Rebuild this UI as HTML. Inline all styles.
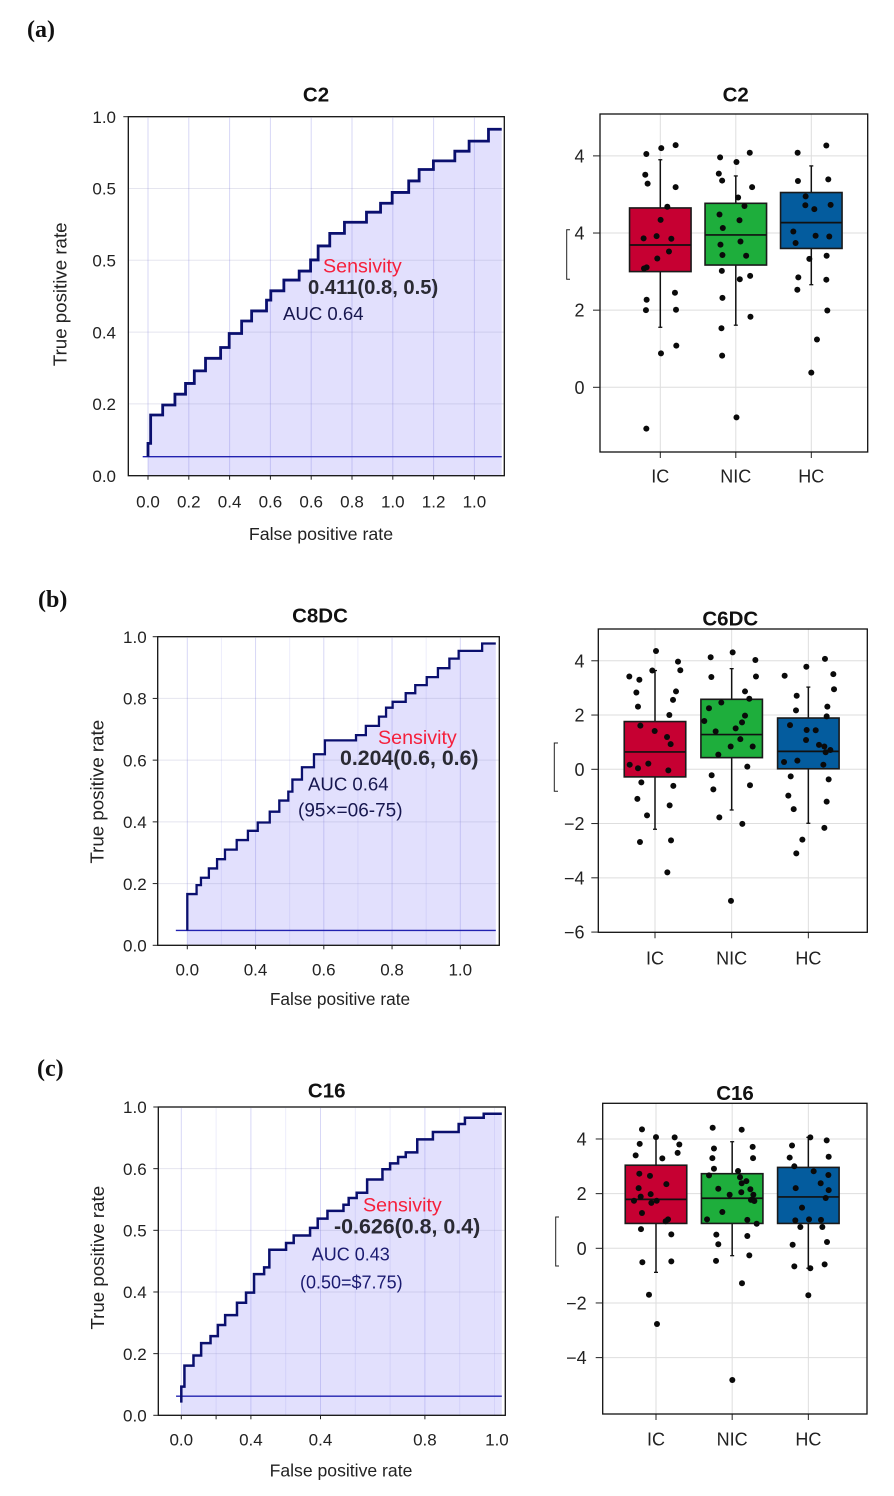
<!DOCTYPE html>
<html lang="en">
<head>
<meta charset="utf-8">
<title>ROC curves and box plots for C2, C8DC, C6DC and C16</title>
<style>
html,body{margin:0;padding:0;background:#fff;}
body{width:894px;height:1496px;overflow:hidden;}
svg{display:block;font-family:"Liberation Sans",sans-serif;}
.panel-label{font-family:"Liberation Serif",serif;font-weight:700;font-size:24px;fill:#111;}
.title{font-weight:700;font-size:20.5px;fill:#111;text-anchor:middle;}
.axis-title{font-size:17.8px;fill:#222;text-anchor:middle;}
.axis-title-y{font-size:18.7px;fill:#222;text-anchor:middle;}
.sens{font-size:19.7px;fill:#f5203c;}
.val{font-size:20.2px;font-weight:700;fill:#2a2a33;}
.auc{font-size:18.6px;fill:#17174f;}
.auc-c{font-size:18px;fill:#1a1a70;}
</style>
</head>
<body>
<svg xmlns="http://www.w3.org/2000/svg" width="894" height="1496" viewBox="0 0 894 1496">
  <rect x="0" y="0" width="894" height="1496" fill="#ffffff"/>

  <text class="panel-label" x="27" y="37">(a)</text>
  <text class="panel-label" x="38" y="607">(b)</text>
  <text class="panel-label" x="37" y="1076">(c)</text>

  <!-- Panel a ROC -->
  <g id="roc-a"></g>
  <text class="title" x="316" y="101.7">C2</text>
  <text class="axis-title" x="321" y="540">False positive rate</text>
  <text class="axis-title-y" transform="translate(66.7 294.3) rotate(-90)">True positive rate</text>
  <text class="sens" x="323" y="272.7">Sensivity</text>
  <text class="val" x="308" y="294">0.411(0.8, 0.5)</text>
  <text class="auc" x="283" y="320">AUC 0.64</text>

  <!-- Panel a box -->
  <g id="box-a"></g>
  <text class="title" x="735.7" y="101.7">C2</text>
  <path d="M570 229.7H566.7V279.3H570" fill="none" stroke="#222" stroke-width="1"/>

  <!-- Panel b ROC -->
  <g id="roc-b"></g>
  <text class="title" x="320" y="622.7">C8DC</text>
  <text class="axis-title" x="340" y="1005" style="font-size:17.3px">False positive rate</text>
  <text class="axis-title-y" transform="translate(103.3 791.7) rotate(-90)">True positive rate</text>
  <text class="sens" x="378" y="744">Sensivity</text>
  <text class="val" x="340" y="765" style="font-size:21.3px">0.204(0.6, 0.6)</text>
  <text class="auc" x="308" y="790.7">AUC 0.64</text>
  <text class="auc" x="298" y="816.7" style="font-size:19px">(95×=06-75)</text>

  <!-- Panel b box -->
  <g id="box-b"></g>
  <text class="title" x="730.3" y="625.3">C6DC</text>
  <path d="M558 743H554.3V791.3H558" fill="none" stroke="#222" stroke-width="1"/>

  <!-- Panel c ROC -->
  <g id="roc-c"></g>
  <text class="title" x="326.7" y="1097.7">C16</text>
  <text class="axis-title" x="341" y="1476.7" style="font-size:17.6px">False positive rate</text>
  <text class="axis-title-y" transform="translate(104 1257.7) rotate(-90)">True positive rate</text>
  <text class="sens" x="363" y="1211.7">Sensivity</text>
  <text class="val" x="334" y="1233.3" style="font-size:21.4px">-0.626(0.8, 0.4)</text>
  <text class="auc-c" x="311.7" y="1260.3">AUC 0.43</text>
  <text class="auc-c" x="300" y="1288.3">(0.50=$7.75)</text>

  <!-- Panel c box -->
  <g id="box-c"></g>
  <text class="title" x="735" y="1100">C16</text>
  <path d="M559 1217H555.7V1266H559" fill="none" stroke="#222" stroke-width="1"/>
</svg>

<script>
/* ---------- ROC data ---------- */
const rocAFpr = [0,.013,.072,.132,.184,.227,.282,.356,.398,.459,.508,.581,.602,.666,.741,.797,.834,.891,.963,1.071,1.14,1.197,1.278,1.329,1.399,1.504,1.574,1.669,1.734];
const rocATpr = [.09,.169,.197,.227,.257,.292,.327,.357,.396,.431,.459,.489,.515,.545,.57,.601,.64,.675,.706,.734,.759,.789,.821,.853,.877,.904,.932,.965,.965];
const rocAStart = .053;
const rocABaseline = .053;
const rocAXTicks = [0,.2,.4,.6,.8,1,1.2,1.4,1.6];
const rocAXTickLabels = ["0.0","0.2","0.4","0.6","0.6","0.8","1.0","1.2","1.0"];
const rocAYTicks = [0,.2,.4,.6,.8,1];
const rocAYTickLabels = ["0.0","0.2","0.4","0.5","0.5","1.0"];

const rocBFpr = [0,.034,.05,.079,.109,.138,.181,.222,.258,.302,.337,.37,.385,.42,.464,.504,.618,.654,.702,.728,.752,.8,.835,.877,.918,.96,.994,1.08,1.13];
const rocBTpr = [.166,.195,.219,.249,.279,.31,.341,.371,.398,.433,.469,.498,.537,.577,.619,.664,.681,.711,.741,.77,.789,.817,.843,.869,.898,.929,.954,.978,.978];
const rocBStart = .048;
const rocBBaseline = .048;
const rocBXTicks = [0,.25,.5,.75,1];
const rocBXTickLabels = ["0.0","0.4","0.6","0.8","1.0"];
const rocBYTicks = [0,.2,.4,.6,.8,1];
const rocBYTickLabels = ["0.0","0.2","0.4","0.6","0.8","1.0"];

const rocCFpr = [0,.009,.035,.057,.084,.105,.126,.16,.186,.209,.238,.253,.301,.323,.37,.392,.42,.466,.481,.504,.534,.578,.6,.623,.645,.678,.723,.797,.815,.869,.921];
const rocCTpr = [.093,.161,.194,.234,.257,.293,.325,.365,.398,.458,.48,.537,.559,.583,.608,.638,.663,.683,.705,.722,.765,.798,.817,.838,.853,.895,.919,.945,.965,.978,.978];
const rocCStart = .041;
const rocCBaseline = .062;
const rocCXTicks = [0,.1,.2,.4,.7];
const rocCXLabelAt = [0,.2,.4,.7,.907];
const rocCXTickLabels = ["0.0","0.4","0.4","0.8","1.0"];
const rocCYTicks = [0,.2,.4,.6,.8,1];
const rocCYTickLabels = ["0.0","0.2","0.4","0.5","0.6","1.0"];

/* ---------- Box plot data ---------- */
const groupNames = ["IC","NIC","HC"];

const boxAQ1 = [3.0,3.17,3.6];
const boxAMedian = [3.69,3.95,4.27];
const boxAQ3 = [4.65,4.77,5.05];
const boxALow = [1.556,1.61,2.66];
const boxAHigh = [5.9,5.48,5.74];
const boxAYTicks = [0,2,4,6];
const boxAYTickLabels = ["0","2","4","4"];
const boxAIcJitter = [-.185,.013,.203,-.199,-.168,.203,.093,.004,-.049,-.221,.146,.115,-.04,-.181,-.216,-.181,.194,-.19,.208,.009,.212,-.185];
const boxAIcValues = [6.05,6.2,6.28,5.51,5.28,5.19,4.68,4.34,3.92,3.86,3.85,3.52,3.34,3.11,3.08,2.27,2.45,2.0,2.01,.88,1.08,-1.07];
const boxANicJitter = [-.208,.009,.185,-.225,-.181,.216,.031,.115,-.216,.049,-.172,-.203,.062,-.177,.137,-.185,.19,.053,-.177,.194,-.19,-.181,.009];
const boxANicValues = [5.96,5.84,6.08,5.54,5.36,5.19,4.92,4.7,4.48,4.33,4.13,3.7,3.78,3.43,3.41,3.02,2.89,2.8,2.32,1.83,1.53,.82,-.78];
const boxAHcJitter = [-.181,.199,-.177,.225,-.075,-.079,.04,.256,-.238,-.208,.057,.238,-.026,.203,-.172,.199,-.185,.212,.075,0];
const boxAHcValues = [6.08,6.27,5.35,5.39,4.95,4.72,4.62,4.73,4.04,3.74,3.93,3.91,3.33,3.41,2.85,2.79,2.53,1.99,1.24,.38];

const boxBQ1 = [-.28,.43,.02];
const boxBMedian = [.64,1.28,.66];
const boxBQ3 = [1.76,2.58,1.89];
const boxBLow = [-2.21,-1.5,-1.99];
const boxBHigh = [3.64,3.71,3.03];
const boxBYTicks = [-6,-4,-2,0,2,4];
const boxBYTickLabels = ["\u22126","\u22124","\u22122","0","2","4"];
const boxBIcJitter = [.013,.3,-.335,-.204,-.035,.33,-.243,.274,.235,-.222,.187,-.191,-.004,.157,.204,-.33,-.222,-.087,.174,-.178,.239,-.23,.191,-.104,-.196,.209,.161];
const boxBIcValues = [4.36,3.97,3.42,3.3,3.64,3.65,2.83,2.87,2.56,2.31,2.0,1.61,1.41,1.19,.93,.17,.04,.21,-.04,-.48,-.61,-1.09,-1.33,-1.7,-2.68,-2.62,-3.8];
const boxBNicJitter = [-.274,.013,.309,-.265,.317,.174,.23,-.135,-.296,-.357,-.209,.174,.135,.052,.113,.274,-.013,-.174,.204,-.261,-.239,.239,-.161,.139,-.009];
const boxBNicValues = [4.13,4.31,4.03,3.4,3.42,2.87,2.6,2.46,2.25,1.78,1.4,1.98,1.73,1.51,1.11,.84,.84,.54,.1,-.22,-.74,-.59,-1.77,-2.01,-4.85];
const boxBHcJitter = [.217,-.026,-.309,.326,-.152,.335,.248,-.161,.239,-.239,-.022,.096,-.03,.139,.209,.287,.226,-.317,-.143,.196,-.23,.265,-.261,.239,-.191,.209,-.078,-.157];
const boxBHcValues = [4.07,3.78,3.45,3.51,2.71,2.95,2.31,2.17,1.95,1.63,1.45,1.44,1.08,.9,.84,.71,.63,.27,.32,.17,-.26,-.37,-.97,-1.19,-1.47,-2.16,-2.59,-3.1];

const boxCQ1 = [.91,.91,.91];
const boxCMedian = [1.79,1.83,1.88];
const boxCQ3 = [3.04,2.73,2.96];
const boxCLow = [-.88,-.27,-.73];
const boxCHigh = [4.06,3.9,4.06];
const boxCYTicks = [-4,-2,0,2,4];
const boxCYTickLabels = ["\u22124","\u22122","0","2","4"];
const boxCIcJitter = [-.184,.245,0,-.214,.306,-.267,.284,.083,-.219,-.079,.136,-.228,-.201,-.07,.009,-.289,-.061,-.184,.158,.127,-.197,.201,-.179,.201,-.092,.013];
const boxCIcValues = [4.35,4.06,4.07,3.82,3.8,3.4,3.49,3.29,2.73,2.65,2.35,2.2,1.89,1.98,1.74,1.74,1.66,1.29,1.06,.99,.7,.51,-.51,-.48,-1.7,-2.77];
const boxCNicJitter = [-.256,.125,-.239,.269,-.26,.274,-.239,.077,.103,-.304,.186,.125,-.182,.239,.12,-.033,.278,.247,.291,-.129,-.33,.199,.322,-.208,.199,-.182,.225,-.212,.129,.002];
const boxCNicValues = [4.41,4.34,3.65,3.71,3.3,3.3,2.91,2.83,2.6,2.67,2.46,2.38,2.18,2.16,2.05,1.96,1.96,1.77,1.73,1.33,1.06,1.04,.9,.5,.45,.15,-.26,-.46,-1.28,-4.82];
const boxCHcJitter = [.026,.241,-.214,-.245,.267,-.184,.07,.263,.162,-.166,.267,.228,-.083,-.171,.009,.166,-.105,.184,-.206,.245,-.184,.214,0,.026];
const boxCHcValues = [4.06,3.95,3.76,3.32,3.35,3.0,2.82,2.68,2.38,2.2,2.13,1.84,1.49,1.02,1.06,1.04,.78,.78,.13,.23,-.66,-.59,-1.72,-.73];

/* ---------- Drawing helpers ---------- */
const NS = "http://www.w3.org/2000/svg";
function make(tag, parent) {
  const el = document.createElementNS(NS, tag);
  parent.appendChild(el);
  
  return el;
}
function seg(parent, x1, y1, x2, y2, color, width, opacity) {
  const l = make('line', parent);
  l.setAttribute('x1', x1);
  l.setAttribute('y1', y1);
  l.setAttribute('x2', x2);
  l.setAttribute('y2', y2);
  l.setAttribute('stroke', color);
  l.setAttribute('stroke-width', width);
  if (opacity !== undefined) l.setAttribute('stroke-opacity', opacity);
  return l;
}
function label(parent, x, y, str, anchor, size) {
  const t = make('text', parent);
  t.setAttribute('x', x);
  t.setAttribute('y', y);
  t.setAttribute('text-anchor', anchor);
  t.setAttribute('font-size', size);
  t.setAttribute('fill', '#222');
  t.textContent = str;
  return t;
}

function drawRoc(id, o) {
  const g = document.getElementById(id);
  const sx = v => o.x0 + v * o.xPerUnit;
  const sy = v => o.y0 - v * o.yPerUnit;

  let line = `M${sx(0)} ${sy(o.start)}`;
  o.fpr.forEach((f, i) => {
    line += `L${sx(f)} ${i === 0 ? sy(o.start) : sy(o.tpr[i - 1])}L${sx(f)} ${sy(o.tpr[i])}`;
  });
  const last = o.fpr[o.fpr.length - 1];

  const fill = make('path', g);
  
  fill.setAttribute('d', line + `L${sx(last)} ${o.y0}L${sx(0)} ${o.y0}Z`);
  fill.setAttribute('fill', '#e2e0fd');

  o.gridX.forEach(v => {
    const l = seg(g, sx(v), o.top + 1, sx(v), o.y0, '#7c7ce0', 1, .3);
    
  });
  (o.minorGridX || []).forEach(v => {
    const l = seg(g, sx(v), o.top + 1, sx(v), o.y0, '#7c7ce0', 1, .14);
    
  });
  o.yTicks.forEach((v, i) => {
    if (i > 0 && i < o.yTicks.length - 1) {
      const l = seg(g, o.left, sy(v), o.right, sy(v), '#8a8ab8', 1, .22);
      
    }
  });

  const base = seg(g, sx(o.baseStart), sy(o.baseline), sx(last), sy(o.baseline), '#2222b0', 1.4);
  

  const curve = make('path', g);
  
  curve.setAttribute('d', line);
  curve.setAttribute('fill', 'none');
  curve.setAttribute('stroke', '#0a0f6e');
  curve.setAttribute('stroke-width', o.lineWidth);

  const frame = make('rect', g);
  
  frame.setAttribute('x', o.left);
  frame.setAttribute('y', o.top);
  frame.setAttribute('width', o.right - o.left);
  frame.setAttribute('height', o.y0 - o.top);
  frame.setAttribute('fill', 'none');
  frame.setAttribute('stroke', '#111');
  frame.setAttribute('stroke-width', 1.3);

  o.xTicks.forEach(v => {
    const l = seg(g, sx(v), o.y0, sx(v), o.y0 + 4, '#222', 1);
    
  });
  o.xLabelAt.forEach((v, i) => {
    const t = label(g, sx(v), o.xLabelY, o.xLabels[i], 'middle', 17);
    
  });
  o.yTicks.forEach((v, i) => {
    const tickLen = o.yTickLen || (i === o.yTicks.length - 1 ? 5 : 0);
    if (tickLen) {
      const l = seg(g, o.left - tickLen, sy(v), o.left, sy(v), '#222', 1);
      
    }
    const t = label(g, o.yLabelX, sy(v) + 6.2, o.yLabels[i], 'end', 17);
    
  });
}

const groupColors = ['#c60032', '#1eae3c', '#045c9e'];

function drawBox(id, o) {
  const g = document.getElementById(id);
  const sx = c => o.cat0 + c * o.step;
  const sy = v => o.y0 - v * o.yPerUnit;

  o.yTicks.forEach(v => {
    if (sy(v) < o.bottom - 2) {
      const l = seg(g, o.left, sy(v), o.right, sy(v), '#dedede', 1);
      
    }
  });
  groupNames.forEach((n, c) => {
    const l = seg(g, sx(c), o.top, sx(c), o.bottom, '#dedede', 1);
    
  });

  groupNames.forEach((n, c) => {
    const cx = sx(c);
    const hw = o.boxWidth / 2;
    const w = seg(g, cx, sy(o.high[c]), cx, sy(o.low[c]), '#111', 1.5);
    
    const capTop = seg(g, cx - 2, sy(o.high[c]), cx + 2, sy(o.high[c]), '#111', 1.3);
    
    const capLow = seg(g, cx - 2, sy(o.low[c]), cx + 2, sy(o.low[c]), '#111', 1.3);
    

    const r = make('rect', g);
    
    r.setAttribute('x', cx - hw);
    r.setAttribute('y', sy(o.q3[c]));
    r.setAttribute('width', o.boxWidth);
    r.setAttribute('height', sy(o.q1[c]) - sy(o.q3[c]));
    r.setAttribute('fill', groupColors[c]);
    r.setAttribute('stroke', '#1a1a1a');
    r.setAttribute('stroke-width', 1.6);

    const m = seg(g, cx - hw, sy(o.median[c]), cx + hw, sy(o.median[c]), '#111', 1.7);
    

    o.jitter[c].forEach((j, i) => {
      const p = make('circle', g);
      
      p.setAttribute('cx', sx(c + j));
      p.setAttribute('cy', sy(o.values[c][i]));
      p.setAttribute('r', 3);
      p.setAttribute('fill', '#0a0a0a');
    });

    const t = label(g, cx, o.catLabelY, n, 'middle', 18);
    
    const tk = seg(g, cx, o.bottom, cx, o.bottom + 6, '#222', 1);
    
  });

  const frame = make('rect', g);
  
  frame.setAttribute('x', o.left);
  frame.setAttribute('y', o.top);
  frame.setAttribute('width', o.right - o.left);
  frame.setAttribute('height', o.bottom - o.top);
  frame.setAttribute('fill', 'none');
  frame.setAttribute('stroke', '#111');
  frame.setAttribute('stroke-width', 1.3);

  o.yTicks.forEach((v, i) => {
    const l = seg(g, o.left - 7, sy(v), o.left, sy(v), '#222', 1);
    
    const t = label(g, o.yLabelX, sy(v) + 6.5, o.yLabels[i], 'end', 18);
    
  });
}

/* ---------- Render ---------- */
drawRoc('roc-a', {
  fpr: rocAFpr, tpr: rocATpr, start: rocAStart, baseline: rocABaseline, baseStart: -.026,
  x0: 148, xPerUnit: 204, y0: 475.7, yPerUnit: 359, left: 128.3, right: 504.3, top: 116.7,
  gridX: rocAXTicks, xTicks: rocAXTicks, xLabelAt: rocAXTicks, xLabels: rocAXTickLabels,
  yTicks: rocAYTicks, yLabels: rocAYTickLabels, yLabelX: 116, xLabelY: 507.3, yTickLen: 0, lineWidth: 2.8
});
drawRoc('roc-b', {
  fpr: rocBFpr, tpr: rocBTpr, start: rocBStart, baseline: rocBBaseline, baseStart: -.042,
  x0: 187.3, xPerUnit: 273, y0: 945.3, yPerUnit: 308.6, left: 157.7, right: 499.3, top: 636.7,
  gridX: rocBXTicks, minorGridX: [.125,.375,.625,.875], xTicks: rocBXTicks, xLabelAt: rocBXTicks, xLabels: rocBXTickLabels,
  yTicks: rocBYTicks, yLabels: rocBYTickLabels, yLabelX: 146.7, xLabelY: 975.7, yTickLen: 5, lineWidth: 2.3
});
drawRoc('roc-c', {
  fpr: rocCFpr, tpr: rocCTpr, start: rocCStart, baseline: rocCBaseline, baseStart: -.015,
  x0: 181.3, xPerUnit: 348, y0: 1415.3, yPerUnit: 308.3, left: 158.3, right: 505.3, top: 1107,
  gridX: [0,.2,.4,.7], minorGridX: [.1,.3,.5,.6,.8,.9], xTicks: rocCXTicks, xLabelAt: rocCXLabelAt, xLabels: rocCXTickLabels,
  yTicks: rocCYTicks, yLabels: rocCYTickLabels, yLabelX: 146.7, xLabelY: 1445.7, yTickLen: 5, lineWidth: 2.5
});

drawBox('box-a', {
  q1: boxAQ1, median: boxAMedian, q3: boxAQ3, low: boxALow, high: boxAHigh,
  jitter: [boxAIcJitter, boxANicJitter, boxAHcJitter], values: [boxAIcValues, boxANicValues, boxAHcValues],
  yTicks: boxAYTicks, yLabels: boxAYTickLabels,
  cat0: 660.3, step: 75.5, boxWidth: 61.5, y0: 387.3, yPerUnit: 38.57,
  left: 600, right: 867.7, top: 114, bottom: 452, yLabelX: 584.5, catLabelY: 482.3
});
drawBox('box-b', {
  q1: boxBQ1, median: boxBMedian, q3: boxBQ3, low: boxBLow, high: boxBHigh,
  jitter: [boxBIcJitter, boxBNicJitter, boxBHcJitter], values: [boxBIcValues, boxBNicValues, boxBHcValues],
  yTicks: boxBYTicks, yLabels: boxBYTickLabels,
  cat0: 655, step: 76.67, boxWidth: 61.5, y0: 769.3, yPerUnit: 27.13,
  left: 598.3, right: 867.3, top: 629, bottom: 932.3, yLabelX: 584.5, catLabelY: 964.3
});
drawBox('box-c', {
  q1: boxCQ1, median: boxCMedian, q3: boxCQ3, low: boxCLow, high: boxCHigh,
  jitter: [boxCIcJitter, boxCNicJitter, boxCHcJitter], values: [boxCIcValues, boxCNicValues, boxCHcValues],
  yTicks: boxCYTicks, yLabels: boxCYTickLabels,
  cat0: 656, step: 76.17, boxWidth: 61.5, y0: 1248.3, yPerUnit: 27.33,
  left: 602.7, right: 867, top: 1103.3, bottom: 1414, yLabelX: 586.7, catLabelY: 1445.7
});
</script>
</body>
</html>
